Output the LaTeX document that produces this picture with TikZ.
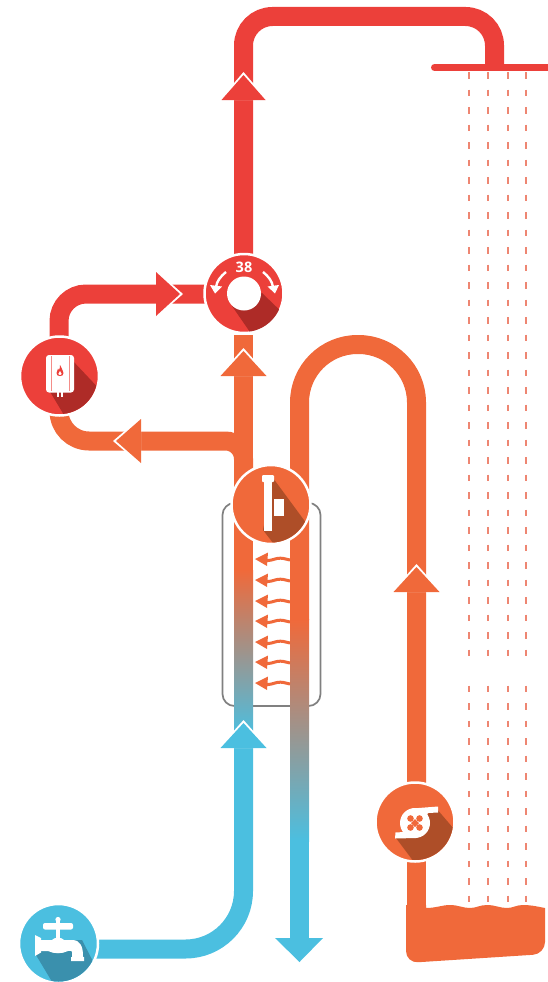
\documentclass[tikz,border=0pt]{standalone}
\usepackage{fontspec}
\setmainfont{Open Sans}
\definecolor{cred}{HTML}{EC403A}
\definecolor{cora}{HTML}{F0693A}
\definecolor{cblu}{HTML}{4BBFE0}
\definecolor{dred}{HTML}{AE2B27}
\definecolor{dora}{HTML}{AE4E28}
\definecolor{dblu}{HTML}{3A90AD}
\definecolor{cdash}{HTML}{EE8672}
\tikzset{
  pipe/.style={line width=19pt},
  hub/.style={circle,draw=white,line width=2.5pt,inner sep=0pt,minimum size=79pt},
  rain/.style={cdash,line width=2.3pt,dash pattern=on 6.5pt off 11pt},
  ripple/.style={cora,line width=3pt},
  turn/.style={white,line width=2.4pt},
}
\newcommand{\headup}[4]{% x, tip y, colour, half width
  \fill[white] (#1-#4-2,#2+25) -- (#1,#2-3) -- (#1+#4+2,#2+25) -- cycle;
  \fill[#3] (#1-#4,#2+25) -- (#1,#2) -- (#1+#4,#2+25) -- cycle;}
\begin{document}
\begin{tikzpicture}[x=1pt,y=-1pt]
\useasboundingbox (0,0) rectangle (548,982);
% coordinates
\coordinate (vtop) at (243.5,255);
\coordinate (cornerA) at (243.5,16.5);
\coordinate (cornerB) at (494.5,16.5);
\coordinate (head) at (494.5,67);
\coordinate (lpC) at (243.5,735);
\coordinate (rpA) at (299.5,620);
% rain
\foreach \x in {469,488,508,526}{
  \draw[rain] (\x,72) -- (\x,657);
  \draw[rain] (\x,685.5) -- (\x,906);
}
% exchanger box
\node[draw=black!50,line width=1.7pt,rounded corners=12pt,minimum width=98pt,minimum height=203pt,inner sep=0pt] (box) at (271.5,604.5) {};
% shower head
\draw[cred,line width=7pt,line cap=round] (434.5,67.5) -- (560,67.5);
% red pipes
\draw[cred,pipe,rounded corners=29pt] (vtop) -- (cornerA) -- (cornerB) -- (head);
\headup{243.5}{75}{cred}{22}
\draw[cred,pipe,rounded corners=27pt] (59,345) -- (59,294) -- (215,294);
\fill[white] (156,270) -- (183,294) -- (156,318) -- cycle;
\fill[cred] (156,272) -- (180,294) -- (156,316) -- cycle;
% orange branch to boiler
\draw[cora,pipe,rounded corners=30pt] (59,410) -- (59,441) -- (135,441);
\draw[cora,pipe,rounded corners=18pt] (130,441) -- (243.5,441) -- (243.5,480);
\fill[white] (141,417) -- (113,441) -- (141,465) -- cycle;
\fill[cora] (141,419) -- (116,441) -- (141,463) -- cycle;
% left riser
\fill[cora] (234,335) rectangle (253,571);
\shade[top color=cora,bottom color=cblu] (234,570) rectangle (253,735);
\headup{243.5}{351}{cora}{23}
% blue feed
\draw[cblu,pipe,rounded corners=58pt] (95,949) -- (243.5,949) -- (lpC);
\headup{243.5}{723}{cblu}{23}
% right down pipe and loop
\draw[cora,pipe,rounded corners=58pt] (rpA) -- (299.5,344.5) -- (416.5,344.5) -- (416.5,800);
\shade[top color=cora,bottom color=cblu] (290,619) rectangle (309,841);
\fill[cblu] (290,840) rectangle (309,940);
\fill[cblu] (275,938) -- (299.5,962) -- (323,938) -- cycle;
\headup{416.5}{567}{cora}{23}
% pump riser and tank
\fill[cora] (407,850) rectangle (426,912);
\fill[cora,rounded corners=12pt] (406,905) -- (406,963) -- (545,954) -- (545,925) [sharp corners] -- (545,908)
  .. controls (535,906) and (530,905) .. (523,905)
  .. controls (516,905) and (513,908) .. (507,908)
  .. controls (500,908) and (495,905) .. (487,905)
  .. controls (480,905) and (476,908) .. (470,908)
  .. controls (463,908) and (458,905) .. (450,905)
  .. controls (442,905) and (436,908) .. (426,908) -- (426,905) -- cycle;
% heat ripples
\foreach \y in {559,580,601,621,642,662,683}{
  \begin{scope}[shift={(0,\y)}]
    \draw[ripple] (290,1) .. controls (285,0) and (282,-1.5) .. (277,-0.5) .. controls (273,0.5) and (270,2) .. (264,1.5);
    \fill[cora] (255,0) -- (268,-6.5) -- (267,7) -- cycle;
  \end{scope}
}
% valve
\node[hub,fill=cred] (valve) at (244,293.5) {};
\begin{scope}
  \clip (244,293.5) circle [radius=38.5pt];
  \fill[dred] (232,306) -- (252,335) -- (290,320) -- (262,293) -- cycle;
\end{scope}
\fill[white] (244,293.5) circle [radius=17pt];
\node[text=white,font=\bfseries,inner sep=0pt] (vtemp) at (244,267.5) {\fontsize{14.5}{14.5}\selectfont 38};
\draw[turn] (226,272) .. controls (220,277) and (217,281) .. (216,287);
\fill[white] (210,285) -- (222,286.5) -- (215,293.5) -- cycle;
\draw[turn] (263,272) .. controls (269,277) and (272,281) .. (273,287);
\fill[white] (279,285) -- (267.5,286.5) -- (275,293.5) -- cycle;
% boiler
\node[hub,fill=cred] (boiler) at (59.5,376) {};
\begin{scope}
  \clip (59.5,376) circle [radius=38pt];
  \fill[dred] (72,360) -- (105,395) -- (70,425) -- (49,390) -- cycle;
\end{scope}
\fill[white,rounded corners=3pt] (46,355) rectangle (74,392.5);
\fill[white] (56.5,391) rectangle (58.5,397);
\fill[white] (60.5,391) rectangle (62.5,397);
\fill[cred!60] (50.5,356) rectangle (51.3,391);
\fill[cred!60] (68.7,356) rectangle (69.5,391);
\fill[cred] (60,365) .. controls (60.8,368) and (63.5,370) .. (63.5,373) .. controls (63.5,375.5) and (62,376) .. (60,376) .. controls (58,376) and (56.5,375.5) .. (56.5,373) .. controls (56.5,371) and (57.5,370) .. (58,368.5) .. controls (58.7,369) and (59,369.5) .. (59,370) .. controls (60,368) and (60.2,366.5) .. (60,365) -- cycle;
\fill[white] (60,371) .. controls (61,372.5) and (61.7,373) .. (61.7,374) .. controls (61.7,375.5) and (58.3,375.5) .. (58.3,374) .. controls (58.3,373) and (59.5,372.5) .. (60,371) -- cycle;
% exchanger cap
\node[hub,fill=cora] (hx) at (271,504.5) {};
\begin{scope}
  \clip (271,504.5) circle [radius=38pt];
  \fill[dora] (273,478) -- (315,535) -- (280,552) -- (263,530) -- cycle;
\end{scope}
\fill[white] (263.5,480) rectangle (272,531);
\fill[white,rounded corners=1pt] (262,475) rectangle (274,482);
\fill[white] (274,499) rectangle (284,516);
% pump
\node[hub,fill=cora] (pump) at (415,822) {};
\begin{scope}
  \clip (415,822) circle [radius=38pt];
  \fill[dora] (436,808) -- (460,836) -- (420,870) -- (396,838) -- cycle;
\end{scope}
\fill[white] (415,823) circle [radius=15pt];
\fill[white] (412,808.5) -- (438,806.5) -- (438,812.5) -- (428,813) -- (425,818) -- cycle;
\fill[white] (395.5,832.5) -- (404,832) -- (412,825) -- (416,838) -- (395,838.5) -- cycle;
\foreach \dx/\dy in {-4.5/-4.5,4.5/-4.5,-4.5/4.5,4.5/4.5}{
  \fill[cora] (415+\dx,823+\dy) circle [radius=3.3pt];
}
\fill[cora] (415,819) -- (419,823) -- (415,827) -- (411,823) -- cycle;
% tap
\node[hub,fill=cblu] (tap) at (58.5,943.5) {};
\begin{scope}
  \clip (58.5,943.5) circle [radius=38pt];
  \fill[dblu] (37,940) -- (82,940) -- (100,975) -- (60,995) -- (36,955) -- cycle;
\end{scope}
\fill[white,rounded corners=2pt] (43,923) rectangle (73,929.5);
\fill[white] (58,919.5) circle [radius=2.6pt];
\fill[white] (56,920) rectangle (60,942);
\fill[white] (35,935) -- (41,938) -- (41,952.5) -- (35,956) -- cycle;
\fill[white] (41,940) -- (52,940) .. controls (54,937) and (62,937) .. (64,940) -- (72,940) .. controls (80,940) and (83,946) .. (83,956) -- (83,957) -- (84,957) -- (84,961) -- (71,961) -- (71,957) -- (72,957) -- (72,952) .. controls (72,950) and (71,951) .. (68,951) .. controls (62,954) and (54,954) .. (48,951) -- (41,951) -- cycle;
\end{tikzpicture}
\end{document}
